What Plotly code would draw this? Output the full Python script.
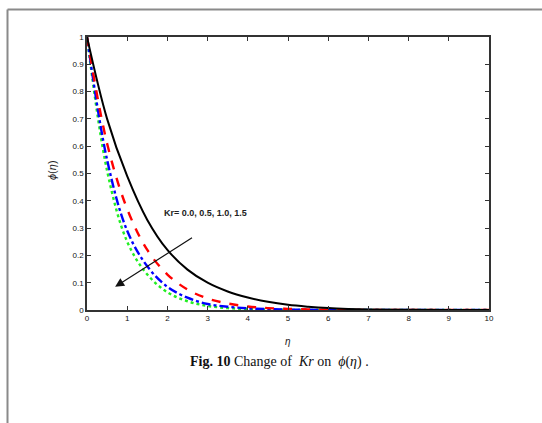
import plotly.graph_objects as go

eta = [0, 0.5, 1, 1.5, 2, 2.5, 3, 3.5, 4, 4.5, 5, 5.5, 6, 6.5, 7, 8, 9, 10]
phi_kr00 = [1, 0.70, 0.49, 0.33, 0.22, 0.148, 0.100, 0.068, 0.046, 0.030, 0.019, 0.012, 0.007, 0.004, 0.002, 0.0007, 0.0002, 0]
phi_kr05 = [1, 0.61, 0.37, 0.22, 0.13, 0.075, 0.042, 0.024, 0.013, 0.007, 0.004, 0.002, 0.001, 0.0005, 0.0002, 0, 0, 0]
phi_kr10 = [1, 0.55, 0.29, 0.16, 0.085, 0.045, 0.022, 0.012, 0.006, 0.003, 0.0015, 0.0007, 0.0003, 0.0001, 0, 0, 0, 0]
phi_kr15 = [1, 0.51, 0.25, 0.13, 0.065, 0.032, 0.015, 0.007, 0.0035, 0.0015, 0.0007, 0.0003, 0.0001, 0, 0, 0, 0, 0]

xticks = [0, 1, 2, 3, 4, 5, 6, 7, 8, 9, 10]
yticks = [0, 0.1, 0.2, 0.3, 0.4, 0.5, 0.6, 0.7, 0.8, 0.9, 1]
ytick_text = ["0", "0.1", "0.2", "0.3", "0.4", "0.5", "0.6", "0.7", "0.8", "0.9", "1"]

fig = go.Figure()
fig.add_trace(go.Scatter(x=eta, y=phi_kr15, mode="lines", line=dict(color="#22ee22", width=2.4, dash="dot", shape="spline")))
fig.add_trace(go.Scatter(x=eta, y=phi_kr10, mode="lines", line=dict(color="#0000ff", width=2.4, dash="dashdot", shape="spline")))
fig.add_trace(go.Scatter(x=eta, y=phi_kr05, mode="lines", line=dict(color="#ff0000", width=2.4, dash="dash", shape="spline")))
fig.add_trace(go.Scatter(x=eta, y=phi_kr00, mode="lines", line=dict(color="#000000", width=2, shape="spline")))

L, R, T, B = 87, 489, 37, 310
W, H = 542, 423
def px(p):
    return (p - L) / (R - L)
def py(p):
    return (B - p) / (B - T)

tickfont = dict(family="Liberation Sans, Arial", size=8, color="#111")
fig.update_layout(
    width=W, height=H,
    margin=dict(l=L, r=W - R, t=T, b=H - B),
    paper_bgcolor="white", plot_bgcolor="white",
    showlegend=False,
    xaxis=dict(range=[0, 10], tickvals=xticks, ticks="inside", ticklen=4, tickcolor="#333",
               showline=True, linecolor="#333", linewidth=1.5, mirror="ticks",
               showgrid=False, zeroline=False, tickfont=tickfont),
    yaxis=dict(range=[0, 1], tickvals=yticks, ticktext=ytick_text, ticks="inside", ticklen=4, tickcolor="#333",
               showline=True, linecolor="#333", linewidth=1.5, mirror="ticks",
               showgrid=False, zeroline=False, tickfont=tickfont),
)

fig.add_annotation(x=0.70, y=0.085, ax=2.65, ay=0.268, xref="x", yref="y", axref="x", ayref="y",
                   text="", showarrow=True, arrowhead=2, arrowsize=1.5, arrowwidth=1.2, arrowcolor="#111")
fig.add_annotation(x=1.86, y=0.355, xref="x", yref="y", xanchor="left", yanchor="middle",
                   text="<b>Kr= 0.0, 0.5, 1.0, 1.5</b>", showarrow=False,
                   font=dict(family="Liberation Sans, Arial", size=9, color="#222"))
fig.add_annotation(x=px(52), y=py(170), xref="paper", yref="paper", textangle=-90,
                   xanchor="center", yanchor="middle",
                   text="<i>ϕ</i>(<i>η</i>)", showarrow=False,
                   font=dict(family="Liberation Sans, Arial", size=11, color="#222"))
fig.add_annotation(x=px(288), y=py(341), xref="paper", yref="paper",
                   xanchor="center", yanchor="middle",
                   text="<i>η</i>", showarrow=False,
                   font=dict(family="Liberation Sans, Arial", size=10, color="#222"))
fig.add_annotation(x=px(279), y=py(362), xref="paper", yref="paper",
                   xanchor="center", yanchor="middle",
                   text="<b>Fig. 10</b> Change of  <i>Kr</i> on  <i>ϕ</i>(<i>η</i>) .", showarrow=False,
                   font=dict(family="Liberation Serif, Times New Roman", size=14, color="#111"))

# outer frame
fig.add_shape(type="line", xref="paper", yref="paper", x0=px(7.5), x1=px(545), y0=py(9.5), y1=py(9.5),
              line=dict(color="#8a8a8a", width=2))
fig.add_shape(type="line", xref="paper", yref="paper", x0=px(7.5), x1=px(7.5), y0=py(9.5), y1=py(430),
              line=dict(color="#8a8a8a", width=2))

fig.write_html("out.html")
